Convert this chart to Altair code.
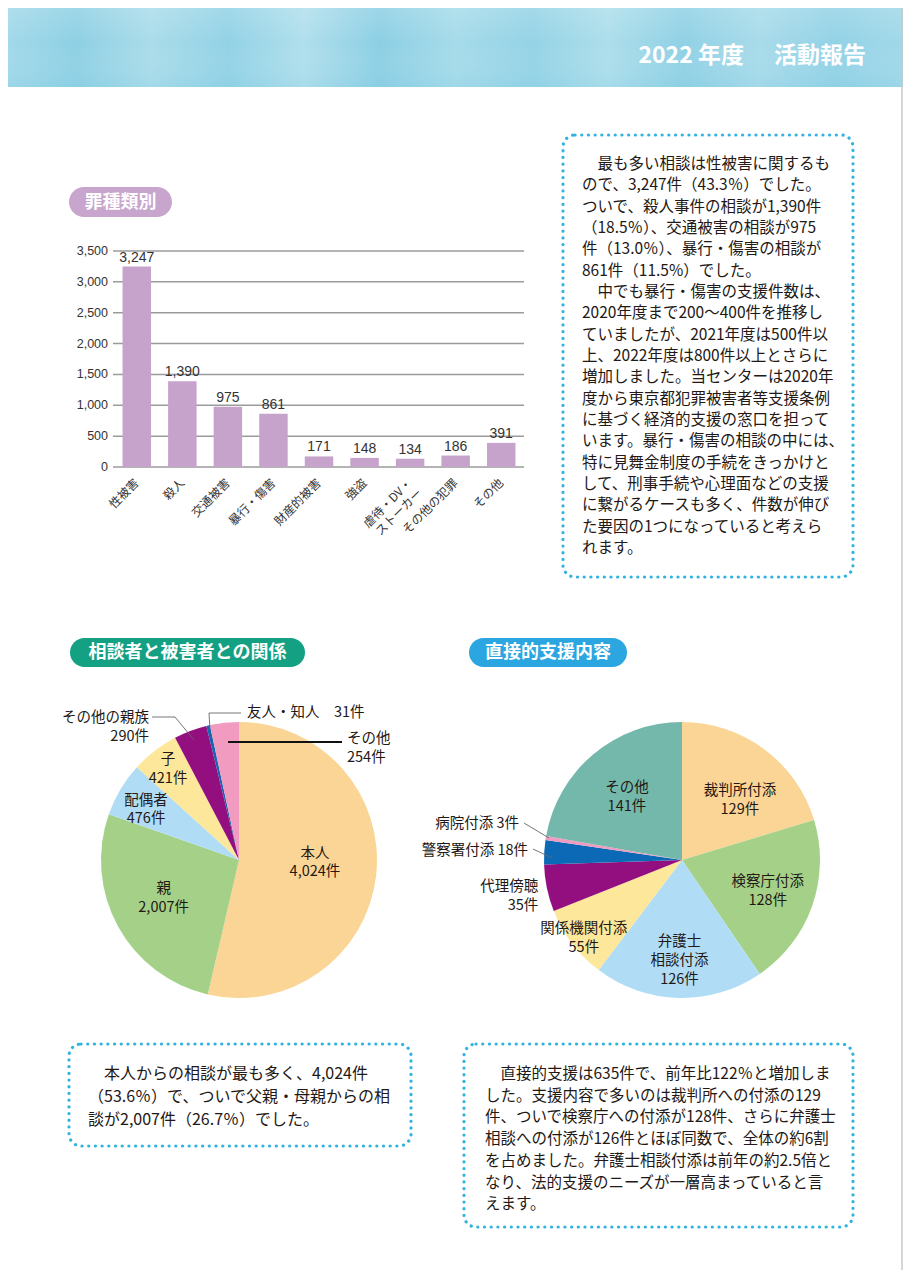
import altair as alt
import pandas as pd

# ---------------- data ----------------
crime_cats = ["性被害", "殺人", "交通被害", "暴行・傷害", "財産的被害", "強盗",
              "虐待・DV・\nストーカー", "その他の犯罪", "その他"]
crime_vals = [3247, 1390, 975, 861, 171, 148, 134, 186, 391]
y_ticks = [0, 500, 1000, 1500, 2000, 2500, 3000, 3500]

rel_cats = ["本人", "親", "配偶者", "子", "その他の親族", "友人・知人", "その他"]
rel_vals = [4024, 2007, 476, 421, 290, 31, 254]

sup_cats = ["裁判所付添", "検察庁付添", "弁護士\n相談付添", "関係機関付添",
            "代理傍聴", "警察署付添", "病院付添", "その他"]
sup_vals = [129, 128, 126, 55, 35, 18, 3, 141]

# ---------------- styles / layout ----------------
FONT = "Noto Sans CJK JP"
NUMFONT = "Liberation Sans"
INK = "#231815"
DOT = "#2fb3df"
BAR = "#c5a3cb"
rel_colors = ["#fbd595", "#a4d187", "#b0ddf5", "#fde79b", "#930f80", "#1a63b0", "#f19bc1"]
sup_colors = ["#fbd595", "#a4d187", "#b0ddf5", "#fde79b", "#930f80", "#0b69b5", "#f19bc1", "#73b8aa"]
# in-slice label layout: radius (px from pie centre, 0 = label drawn outside),
# alignment and a small angular nudge (degrees) from the slice's mid-angle
rel_label_r = [76, 84, 106, 116, 0, 0, 0]
rel_label_al = ["center"] * 7
rel_label_nudge = [-5, 2.5, -2, 0, 0, 0, 0]
sup_label_r = [84, 91, 100, 125, 148, 0, 0, 84]
sup_label_al = ["center", "center", "center", "center", "right", "center", "center", "center"]
sup_label_nudge = [7, 0, 0, -1, -2, 0, 0, -1]

OFF = 8
W, H = 895, 1262
ZW = "\u200b"  # keeps a leading full-width indent from being trimmed
TY = 1         # small vertical correction for CJK glyph centring


def P(v):
    return v - OFF


one = pd.DataFrame({"k": [0]})


def box(x1, y1, x2, y2, **mk):
    return alt.Chart(one).mark_rect(**mk).encode(
        x=alt.value(P(x1)), x2=alt.value(P(x2)), y=alt.value(P(y1)), y2=alt.value(P(y2)))


def txt(x, y, s, **mk):
    mk.setdefault("font", FONT)
    mk.setdefault("lineBreak", "\n")
    return alt.Chart(one).mark_text(text=s, **mk).encode(x=alt.value(P(x)), y=alt.value(P(y)))


def seg(x1, y1, x2, y2, **mk):
    return alt.Chart(one).mark_rule(**mk).encode(
        x=alt.value(P(x1)), x2=alt.value(P(x2)), y=alt.value(P(y1)), y2=alt.value(P(y2)))


def pie(cats, vals, colors, lab_r, lab_al, nudge, center, radius=138, lh=18.8):
    n = len(cats)
    labs = [f"{c}\n{v:,}件" if r > 0 else "" for c, v, r in zip(cats, vals, lab_r)]
    df = pd.DataFrame({
        "cat": cats, "val": vals, "ord": list(range(n)), "col": colors,
        "lab": labs, "lr": lab_r, "nd": nudge,
        "grp": [f"{a}{l.count(chr(10)) + 1}" for a, l in zip(lab_al, labs)],
    })
    cx, cy = alt.value(P(center[0])), alt.value(P(center[1]))
    out = [alt.Chart(df).mark_arc(outerRadius=radius).encode(
        theta=alt.Theta("val:Q", stack=True), order=alt.Order("ord:Q"), detail="cat:N",
        color=alt.Color("col:N", scale=None), x=cx, y=cy)]
    base = (alt.Chart(df)
            .transform_window(cum="sum(val)", sort=[alt.SortField("ord")], frame=[None, 0])
            .transform_joinaggregate(tot="sum(val)")
            .transform_calculate(
                ang="(datum.cum - datum.val / 2) / datum.tot * 2 * PI + datum.nd * PI / 180"))
    groups = set(df["grp"][df["lr"] > 0])
    for al in ["center", "right"]:
        for nl in [2, 3]:
            g = f"{al}{nl}"
            if g not in groups:
                continue
            out.append(base.transform_filter(f"datum.grp == '{g}' && datum.lr > 0").mark_text(
                font=FONT, fontSize=14.5, lineBreak="\n", lineHeight=lh, align=al,
                baseline="middle", dy=-(nl - 1) * lh / 2 + TY, color=INK).encode(
                theta=alt.Theta("ang:Q", scale=None), radius=alt.Radius("lr:Q", scale=None),
                text="lab:N", x=cx, y=cy))
    return out


layers = []

# ---------------- header ----------------
hdr_stops = ["#a4daea", "#8ed0e4", "#aadcea", "#92d2e6", "#b0dfec", "#8ccfe4", "#a6dbea",
             "#94d3e6", "#addeeb", "#90d1e5", "#a8dbea", "#93d2e6", "#a2d9e9"]
grad = {"gradient": "linear", "x1": 0, "x2": 1, "y1": 0, "y2": 0,
        "stops": [{"offset": i / (len(hdr_stops) - 1), "color": c} for i, c in enumerate(hdr_stops)]}
layers.append(box(0, 0, 911, 87, color=grad))
layers.append(box(0, 0, 911, 87, color={"gradient": "linear", "x1": 0, "x2": 0, "y1": 0, "y2": 1,
                                         "stops": [{"offset": 0, "color": "rgba(255,255,255,0.18)"},
                                                   {"offset": 0.5, "color": "rgba(255,255,255,0.0)"},
                                                   {"offset": 1, "color": "rgba(120,200,225,0.15)"}]}))
layers.append(txt(744, 56, "2022 年度", align="right", baseline="middle", fontSize=23,
                  fontWeight="bold", color="white"))
layers.append(txt(866, 56, "活動報告", align="right", baseline="middle", fontSize=23,
                  fontWeight="bold", color="white"))
layers.append(seg(OFF + W - 1, 0, OFF + W - 1, 1290, color="#c8c8c8", strokeWidth=1.5))

# ---------------- pills ----------------
PILL_TXT = dict(align="center", baseline="middle", fontSize=18, fontWeight="bold", color="white")
layers.append(box(69, 187, 172, 217, color="#c8a5cd", cornerRadius=15))
layers.append(txt(120.5, 202.5, "罪種類別", **PILL_TXT))
layers.append(box(70, 638, 305, 667, color="#13a083", cornerRadius=14.5))
layers.append(txt(187.5, 653, "相談者と被害者との関係", **PILL_TXT))
layers.append(box(469, 638, 627, 667, color="#2ca6e0", cornerRadius=14.5))
layers.append(txt(548, 653, "直接的支援内容", **PILL_TXT))

# ---------------- bar chart ----------------
crime_df = pd.DataFrame({"cat": crime_cats, "val": crime_vals})
tick_df = pd.DataFrame({"t": y_ticks})
yscale = alt.Scale(domain=[0, 3500], range=[P(467), P(251)], nice=False, zero=True)
xscale = alt.Scale(range=[P(114), P(524)], paddingInner=0.375, paddingOuter=0.1875)
xenc = alt.X("cat:N", sort=crime_cats, scale=xscale, axis=None)

layers.append(alt.Chart(tick_df).mark_rule(color="#9b9b9b", strokeWidth=1.5).encode(
    y=alt.Y("t:Q", scale=yscale, axis=None), x=alt.value(P(113)), x2=alt.value(P(524))))
layers.append(alt.Chart(tick_df).mark_text(align="right", baseline="middle", fontSize=12.5,
                                           font=NUMFONT, color="#333").encode(
    y=alt.Y("t:Q", scale=yscale, axis=None), x=alt.value(P(108)),
    text=alt.Text("t:Q", format=",")))
layers.append(alt.Chart(crime_df).mark_bar(color=BAR).encode(
    x=xenc, y=alt.Y("val:Q", scale=yscale, axis=None)))
layers.append(alt.Chart(crime_df).mark_text(baseline="middle", dy=-9, fontSize=14,
                                            font=NUMFONT, color="#333").encode(
    x=xenc, y=alt.Y("val:Q", scale=yscale, axis=None), text=alt.Text("val:Q", format=",")))
layers.append(alt.Chart(crime_df).mark_text(angle=315, align="right", baseline="middle",
                                            fontSize=12, font=FONT, lineBreak="\n",
                                            lineHeight=14, color="#333").encode(
    x=xenc, y=alt.value(P(481)), text="cat:N"))

# ---------------- text boxes ----------------
BOX = dict(filled=False, stroke=DOT, strokeWidth=3.2, strokeDash=[0.1, 6.6],
           strokeCap="round", cornerRadius=12)
box1_lines = [
    ZW + "　最も多い相談は性被害に関するも",
    "ので、3,247件（43.3％）でした。",
    "ついで、殺人事件の相談が1,390件",
    "（18.5％）、交通被害の相談が975",
    "件（13.0％）、暴行・傷害の相談が",
    "861件（11.5%）でした。",
    ZW + "　中でも暴行・傷害の支援件数は、",
    "2020年度まで200～400件を推移し",
    "ていましたが、2021年度は500件以",
    "上、2022年度は800件以上とさらに",
    "増加しました。当センターは2020年",
    "度から東京都犯罪被害者等支援条例",
    "に基づく経済的支援の窓口を担って",
    "います。暴行・傷害の相談の中には、",
    "特に見舞金制度の手続をきっかけと",
    "して、刑事手続や心理面などの支援",
    "に繋がるケースも多く、件数が伸び",
    "た要因の1つになっていると考えら",
    "れます。",
]
box2_lines = [
    ZW + "　本人からの相談が最も多く、4,024件",
    "（53.6％）で、ついで父親・母親からの相",
    "談が2,007件（26.7％）でした。",
]
box3_lines = [
    ZW + "　直接的支援は635件で、前年比122％と増加しま",
    "した。支援内容で多いのは裁判所への付添の129",
    "件、ついで検察庁への付添が128件、さらに弁護士",
    "相談への付添が126件とほぼ同数で、全体の約6割",
    "を占めました。弁護士相談付添は前年の約2.5倍と",
    "なり、法的支援のニーズが一層高まっていると言",
    "えます。",
]
layers.append(box(563, 135, 853, 577, **BOX))
layers.append(txt(582, 163 + TY, "\n".join(box1_lines), align="left", baseline="middle",
                  fontSize=15.5, lineHeight=21.33, color=INK))
layers.append(box(69, 1044, 411, 1146, **BOX))
layers.append(txt(88, 1073 + TY, "\n".join(box2_lines), align="left", baseline="middle",
                  fontSize=16, lineHeight=23, color=INK))
layers.append(box(464, 1044, 853, 1227, **BOX))
layers.append(txt(485, 1073 + TY, "\n".join(box3_lines), align="left", baseline="middle",
                  fontSize=15.5, lineHeight=21.7, color=INK))

# ---------------- pie 1 ----------------
layers += pie(rel_cats, rel_vals, rel_colors, rel_label_r, rel_label_al, rel_label_nudge, (239, 860))
LBL = dict(fontSize=14.5, lineHeight=19, baseline="middle", color=INK)
layers.append(txt(149, 717 + TY, f"{rel_cats[4]}\n{rel_vals[4]}件", align="right", **LBL))
layers.append(txt(247, 712 + TY, f"{rel_cats[5]}　{rel_vals[5]}件", align="left", **LBL))
layers.append(txt(347, 738 + TY, f"{rel_cats[6]}\n{rel_vals[6]}件", align="left", **LBL))
LEAD = dict(color="#666", strokeWidth=0.9)
layers.append(seg(152, 717, 175, 717, **LEAD))
layers.append(seg(175, 717, 194, 740, **LEAD))
layers.append(seg(209, 713, 241, 713, **LEAD))
layers.append(seg(209, 713, 210, 730, **LEAD))
layers.append(seg(228, 742, 342, 742, color="#111", strokeWidth=2))

# ---------------- pie 2 ----------------
layers += pie(sup_cats, sup_vals, sup_colors, sup_label_r, sup_label_al, sup_label_nudge, (682, 860))
layers.append(txt(528, 850 + TY, f"{sup_cats[5]} {sup_vals[5]}件", align="right", **LBL))
layers.append(txt(519, 823 + TY, f"{sup_cats[6]} {sup_vals[6]}件", align="right", **LBL))
layers.append(seg(533, 849, 552, 858, **LEAD))
layers.append(seg(524, 823, 549, 838, **LEAD))

chart = alt.layer(*layers).resolve_scale(theta="independent", radius="independent").properties(
    width=W, height=H, autosize=alt.AutoSizeParams(type="none"), padding=0,
    background="white",
).configure_view(stroke=None)

chart.save("out.html", embed_options={"renderer": "svg", "actions": False})
